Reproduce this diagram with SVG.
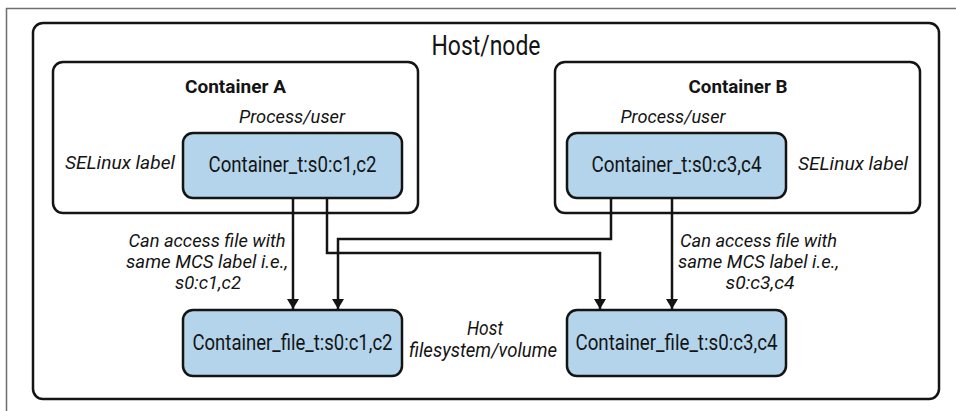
<svg xmlns="http://www.w3.org/2000/svg" width="956" height="411" viewBox="0 0 956 411">
<defs>
<style>
text{font-family:Roboto,"Liberation Sans",sans-serif;fill:#141414;text-anchor:middle}
.frame{fill:none;stroke:#6e6e6e;stroke-width:1.5}
.box{fill:#ffffff;stroke:#141414;stroke-width:2.5}
.proc{fill:#b3d4ea;stroke:#141414;stroke-width:2.5}
.title{font-size:28px}
.head{font-size:19px;font-weight:bold}
.it{font-size:19px;font-style:italic}
.lbl{font-size:20px;font-style:italic}
.cap{font-size:19px;font-style:italic}
.val{font-size:22px}
.conn{fill:none;stroke:#141414;stroke-width:2.5;marker-end:url(#arr)}
</style>
<marker id="arr" viewBox="0 0 10 10" refX="10" refY="5" markerWidth="10" markerHeight="12" markerUnits="userSpaceOnUse" orient="auto" preserveAspectRatio="none">
<path d="M0,0 L10,5 L0,10 Z" fill="#141414"/>
</marker>
</defs>
<rect width="956" height="411" fill="#ffffff"/>
<path class="frame" d="M6.5,411 V8.5 H956"/>

<g id="host">
<rect class="box" x="33" y="23" width="906" height="376" rx="10"/>
<text class="title" x="486" y="55" textLength="109" lengthAdjust="spacingAndGlyphs">Host/node</text>
<text class="lbl" x="485" y="335" textLength="36" lengthAdjust="spacingAndGlyphs">Host</text>
<text class="lbl" x="483" y="357" textLength="148" lengthAdjust="spacingAndGlyphs">filesystem/volume</text>
</g>

<g id="containerA">
<rect class="box" x="53" y="62" width="365" height="151" rx="10"/>
<text class="head" x="235.5" y="93" textLength="101" lengthAdjust="spacingAndGlyphs">Container A</text>
<text class="it" x="292" y="123" textLength="106" lengthAdjust="spacingAndGlyphs">Process/user</text>
<text class="it" x="120" y="169" textLength="110" lengthAdjust="spacingAndGlyphs">SELinux label</text>
</g>

<g id="containerB">
<rect class="box" x="555" y="62" width="365" height="151" rx="10"/>
<text class="head" x="738" y="93" textLength="99" lengthAdjust="spacingAndGlyphs">Container B</text>
<text class="it" x="673" y="123" textLength="105" lengthAdjust="spacingAndGlyphs">Process/user</text>
<text class="it" x="853" y="170" textLength="110" lengthAdjust="spacingAndGlyphs">SELinux label</text>
</g>

<g id="procA">
<rect class="proc" x="183" y="133" width="219" height="65" rx="10"/>
<text class="val" x="292.5" y="172" textLength="168" lengthAdjust="spacingAndGlyphs">Container_t:s0:c1,c2</text>
</g>

<g id="procB">
<rect class="proc" x="567" y="133" width="219" height="65" rx="10"/>
<text class="val" x="676.5" y="172" textLength="170" lengthAdjust="spacingAndGlyphs">Container_t:s0:c3,c4</text>
</g>

<g id="fileA">
<rect class="proc" x="183" y="310" width="219" height="66" rx="10"/>
<text class="val" x="292.5" y="350" textLength="200" lengthAdjust="spacingAndGlyphs">Container_file_t:s0:c1,c2</text>
</g>

<g id="fileB">
<rect class="proc" x="567" y="310" width="219" height="66" rx="10"/>
<text class="val" x="676.5" y="350" textLength="202" lengthAdjust="spacingAndGlyphs">Container_file_t:s0:c3,c4</text>
</g>

<g id="connectors">
<path class="conn" d="M293,198 V309"/>
<path class="conn" d="M327,198 V253 H600 V309"/>
<path class="conn" d="M611,198 V239 H338 V309"/>
<path class="conn" d="M672,198 V309"/>
<text class="cap" x="207" y="247" textLength="157" lengthAdjust="spacingAndGlyphs">Can access file with</text>
<text class="cap" x="207" y="268" textLength="162" lengthAdjust="spacingAndGlyphs">same MCS label i.e.,</text>
<text class="cap" x="208" y="289" textLength="66" lengthAdjust="spacingAndGlyphs">s0:c1,c2</text>
<text class="cap" x="758.5" y="247" textLength="157" lengthAdjust="spacingAndGlyphs">Can access file with</text>
<text class="cap" x="758.5" y="268" textLength="161" lengthAdjust="spacingAndGlyphs">same MCS label i.e.,</text>
<text class="cap" x="760" y="289" textLength="69" lengthAdjust="spacingAndGlyphs">s0:c3,c4</text>
</g>
</svg>
